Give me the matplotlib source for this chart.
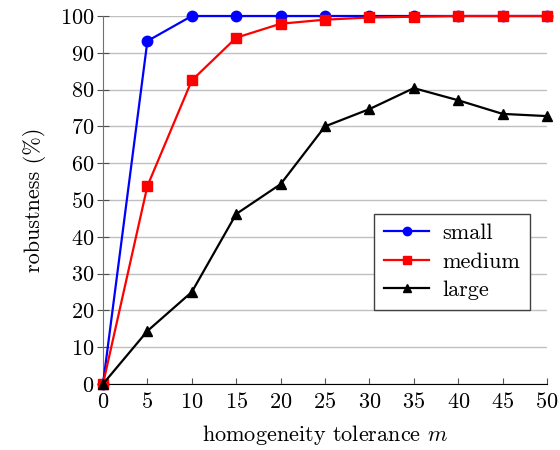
import matplotlib
matplotlib.use('Agg')
import matplotlib.pyplot as plt

plt.rcParams['font.family'] = ['cmr10', 'DejaVu Serif']
plt.rcParams['mathtext.fontset'] = 'cm'
plt.rcParams['axes.formatter.use_mathtext'] = True

# homogeneity tolerance m
m = [0, 5, 10, 15, 20, 25, 30, 35, 40, 45, 50]
small = [0, 93.2, 100, 100, 100, 100, 100, 100, 100, 100, 100]
medium = [0, 53.8, 82.5, 94.1, 97.9, 99.0, 99.6, 99.8, 100, 100, 100]
large = [0, 14.4, 25.0, 46.2, 54.3, 70.0, 74.7, 80.4, 77.1, 73.4, 72.8]

fig = plt.figure(figsize=(5.6, 4.5), dpi=100)
ax = fig.add_axes([103 / 560, 66 / 450, 444 / 560, 368 / 450])

ax.plot(m, small, color='blue', marker='o', markersize=7.5, lw=1.6, label='small', clip_on=False, zorder=3)
ax.plot(m, medium, color='red', marker='s', markersize=7.5, lw=1.6, label='medium', clip_on=False, zorder=4)
ax.plot(m, large, color='black', marker='^', markersize=7.5, lw=1.6, label='large', clip_on=False, zorder=5)

ax.set_xlim(0, 50)
ax.set_ylim(0, 100)
ax.set_xticks(range(0, 51, 5))
ax.set_yticks(range(0, 101, 10))
ax.yaxis.grid(True, color='#c0c0c0', lw=1)
ax.set_axisbelow(True)

ax.spines['top'].set_visible(False)
ax.spines['right'].set_visible(False)
ax.spines['left'].set_color('#707070')
ax.spines['bottom'].set_color('black')
ax.tick_params(axis='y', direction='inout', length=8, color='#505050', labelsize=16, pad=2)
ax.tick_params(axis='x', direction='in', length=4, color='#505050', labelsize=16, pad=6)

ax.set_xlabel('homogeneity tolerance $m$', fontsize=16, labelpad=8)
ax.set_ylabel('robustness (%)', fontsize=16, labelpad=10)

leg = ax.legend(loc='lower right', bbox_to_anchor=(0.962, 0.201), borderaxespad=0, fontsize=16,
                fancybox=False, edgecolor='#404040', framealpha=1, handlelength=2.0, borderpad=0.45,
                labelspacing=0.4, markerscale=0.8, handletextpad=0.6)
leg.get_frame().set_linewidth(1)

fig.savefig('out.png')
